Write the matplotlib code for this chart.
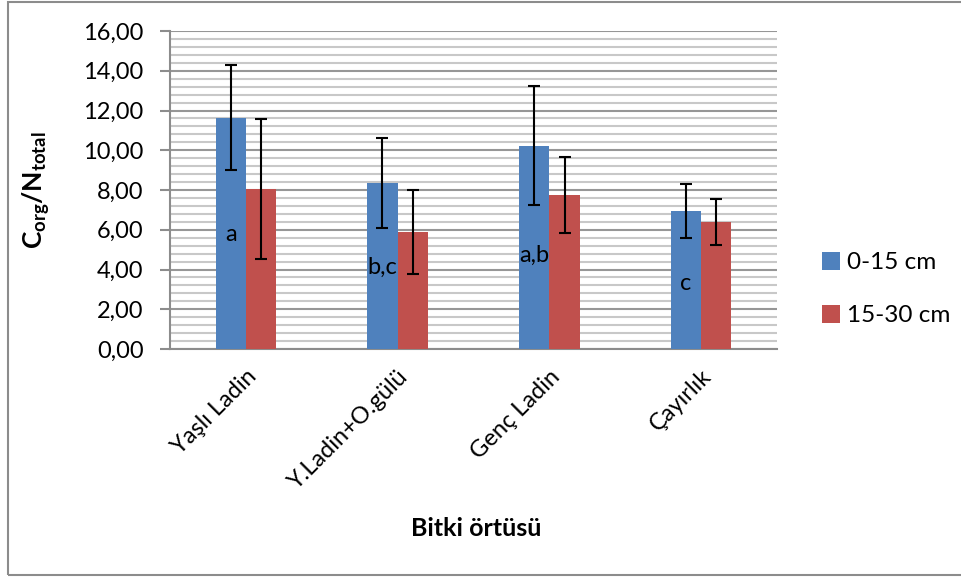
import matplotlib
matplotlib.use("Agg")
import matplotlib.pyplot as plt
import numpy as np
from matplotlib.patches import Rectangle
from matplotlib.ticker import MultipleLocator, FuncFormatter

plt.rcParams['font.family'] = ['Lato', 'DejaVu Sans']
plt.rcParams['mathtext.fontset'] = 'custom'
plt.rcParams['mathtext.rm'] = 'Lato'
plt.rcParams['mathtext.bf'] = 'Lato:bold'

categories = ["Yaşlı Ladin", "Y.Ladin+O.gülü", "Genç Ladin", "Çayırlık"]
series_names = ["0-15 cm", "15-30 cm"]
depth_0_15 = [11.64, 8.34, 10.23, 6.93]
depth_15_30 = [8.03, 5.89, 7.75, 6.39]
err_0_15 = [2.64, 2.26, 2.98, 1.37]
err_15_30 = [3.52, 2.13, 1.90, 1.18]
group_letters = ["a", "b,c", "a,b", "c"]
letter_heights = [5.75, 4.1, 4.7, 3.3]

blue = "#4F81BD"
red = "#C0504D"
fs = 17

fig = plt.figure(figsize=(9.61, 5.78), dpi=100)
ax = fig.add_axes([170 / 961, 1 - 349 / 578, 607 / 961, 318 / 578])

# outer chart frame
fig.patches.append(Rectangle((8 / 961, 3 / 578), 1.2, 1 - 5 / 578, transform=fig.transFigure,
                             fill=False, edgecolor="#8c8c8c", linewidth=1.5, zorder=0))

x = np.arange(len(categories))
w = 0.2
ax.bar(x - w / 2, depth_0_15, w, color=blue, label=series_names[0], zorder=3)
ax.bar(x + w / 2, depth_15_30, w, color=red, label=series_names[1], zorder=3)
ax.errorbar(x - w / 2, depth_0_15, yerr=err_0_15, fmt="none", ecolor="black",
            elinewidth=1.5, capsize=4.5, capthick=1.5, zorder=4)
ax.errorbar(x + w / 2, depth_15_30, yerr=err_15_30, fmt="none", ecolor="black",
            elinewidth=1.5, capsize=4.5, capthick=1.5, zorder=4)

for xi, lab, h in zip(x, group_letters, letter_heights):
    ax.text(xi - w / 2, h, lab, ha="center", va="center", fontsize=fs, color="black", zorder=5)

ax.set_xlim(-0.5, 3.5)
ax.set_ylim(0, 16)
ax.yaxis.set_major_locator(MultipleLocator(2))
ax.yaxis.set_minor_locator(MultipleLocator(0.4))
ax.yaxis.set_major_formatter(FuncFormatter(lambda v, p: f"{v:.2f}".replace(".", ",")))
ax.grid(which="minor", axis="y", color="#c8c8c8", linewidth=1.5, zorder=1)
ax.grid(which="major", axis="y", color="#969696", linewidth=1.5, zorder=1)
ax.set_axisbelow(True)

for s in ["top", "right"]:
    ax.spines[s].set_visible(False)
ax.spines["left"].set_color("#8c8c8c")
ax.spines["bottom"].set_color("#8c8c8c")
ax.spines["left"].set_linewidth(1.5)
ax.spines["bottom"].set_linewidth(1.5)

ax.tick_params(axis="y", which="major", direction="out", length=7, width=1.5,
               color="#8c8c8c", labelsize=fs, pad=12)
ax.tick_params(axis="y", which="minor", length=0)
ax.set_xticks(x)
ax.set_xticklabels(categories, rotation=45, ha="right", rotation_mode="anchor", fontsize=fs)
ax.tick_params(axis="x", length=0, pad=12)

ax.set_ylabel(r"$\mathbf{C_{org}/N_{total}}$", fontsize=19)
ax.yaxis.set_label_coords((52 - 170) / 607, 0.5)
fig.text(476 / 961, 1 - 528 / 578, "Bitki örtüsü", ha="center", va="center",
         fontsize=18, fontweight="bold")

leg = ax.legend(loc="center left", bbox_to_anchor=(800 / 961, 1 - 289 / 578),
                bbox_transform=fig.transFigure, frameon=False, fontsize=17.5,
                handlelength=0.75, handleheight=0.75, handletextpad=0.3, labelspacing=1.3)

fig.savefig("out.png", dpi=100)
